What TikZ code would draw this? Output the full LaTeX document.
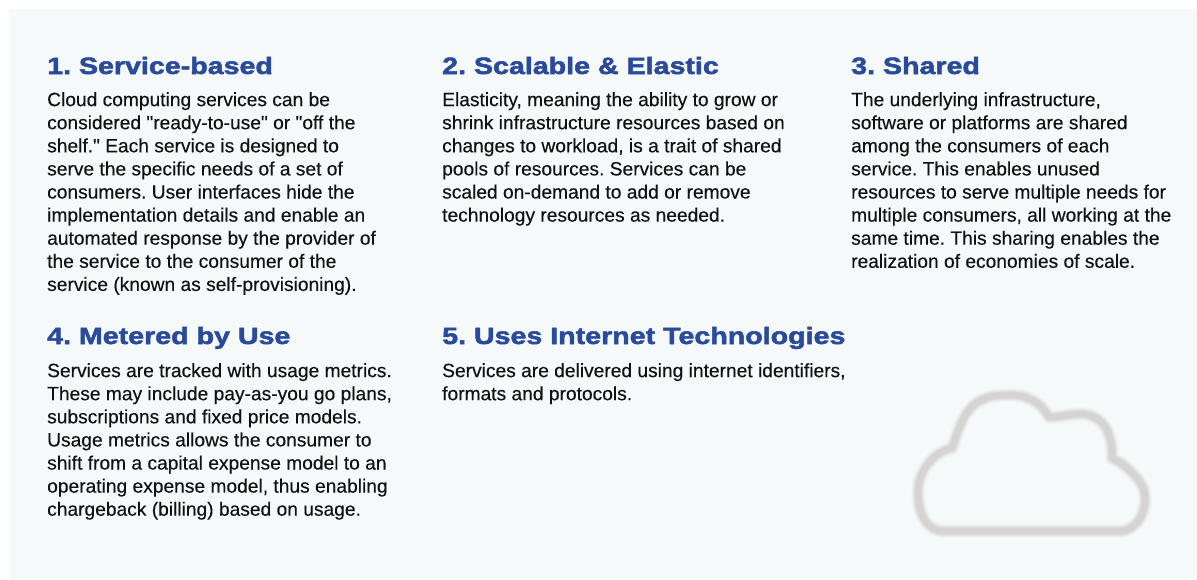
\documentclass[tikz,border=0pt]{standalone}
\usepackage{fontspec}
\newfontfamily\bodyfont[FakeBold=0.25]{Liberation Sans}
\newfontfamily\headfont[FakeStretch=1.212,FakeBold=2.2]{Liberation Sans Bold}
\definecolor{panelbg}{HTML}{F6F9FA}
\definecolor{headblue}{HTML}{2A4A9C}
\definecolor{bodyink}{HTML}{111111}
\definecolor{cloudline}{HTML}{CFCDCB}
\tikzset{
  x=1pt,y=-1pt,
  headtext/.style={anchor=base west,inner sep=0pt,text=headblue,font=\headfont\fontsize{23.6}{26}\selectfont\frenchspacing},
  bodytext/.style={anchor=north west,inner sep=0pt,align=left,text=bodyink,font=\bodyfont\fontsize{19.2}{23.1}\selectfont\frenchspacing},
  cloudstroke/.style={draw=cloudline,line join=round,line cap=round},
}
\newcommand{\cloudshape}{(943,531) -- (1120,531)
  .. controls (1136,531) and (1146,513) .. (1145,496)
  .. controls (1144,482) and (1128,466) .. (1112,458)
  .. controls (1113,435) and (1104,414) .. (1080,414)
  .. controls (1068,414) and (1056,418) .. (1049,417)
  .. controls (1040,402) and (1028,395) .. (1010,395)
  .. controls (995,395) and (985,397) .. (976,403)
  .. controls (962,414) and (958,432) .. (952,448)
  .. controls (934,452) and (918,470) .. (918,493)
  .. controls (918,515) and (928,531) .. (943,531) -- cycle}
\begin{document}
\begin{tikzpicture}
\useasboundingbox (0,0) rectangle (1197,579);
\fill[white] (0,0) rectangle (1197,579);
\fill[panelbg] (9,9) rectangle (1197,579);
\foreach \w/\o in {14/0.1,12/0.15,10/0.25,8/0.35,6/0.5}{
  \draw[cloudstroke,line width=\w pt,opacity=\o] \cloudshape;
}
\node[headtext] (h1) at (47,74) {1. Service-based};
\node[headtext] (h2) at (442,74) {2. Scalable \& Elastic};
\node[headtext] (h3) at (851,74) {3. Shared};
\node[headtext] (h4) at (47,344) {4. Metered by Use};
\node[headtext] (h5) at (442,344) {5. Uses Internet Technologies};
\node[bodytext] (b1) at (47,92) {Cloud computing services can be\\
considered "ready-to-use" or "off the\\
shelf." Each service is designed to\\
serve the specific needs of a set of\\
consumers. User interfaces hide the\\
implementation details and enable an\\
automated response by the provider of\\
the service to the consumer of the\\
service (known as self-provisioning).};
\node[bodytext] (b2) at (442,92) {Elasticity, meaning the ability to grow or\\
shrink infrastructure resources based on\\
changes to workload, is a trait of shared\\
pools of resources. Services can be\\
scaled on-demand to add or remove\\
technology resources as needed.};
\node[bodytext] (b3) at (851,92) {The underlying infrastructure,\\
software or platforms are shared\\
among the consumers of each\\
service. This enables unused\\
resources to serve multiple needs for\\
multiple consumers, all working at the\\
same time. This sharing enables the\\
realization of economies of scale.};
\node[bodytext] (b4) at (47,363) {Services are tracked with usage metrics.\\
These may include pay-as-you go plans,\\
subscriptions and fixed price models.\\
Usage metrics allows the consumer to\\
shift from a capital expense model to an\\
operating expense model, thus enabling\\
chargeback (billing) based on usage.};
\node[bodytext] (b5) at (442,363) {Services are delivered using internet identifiers,\\
formats and protocols.};
\end{tikzpicture}
\end{document}
